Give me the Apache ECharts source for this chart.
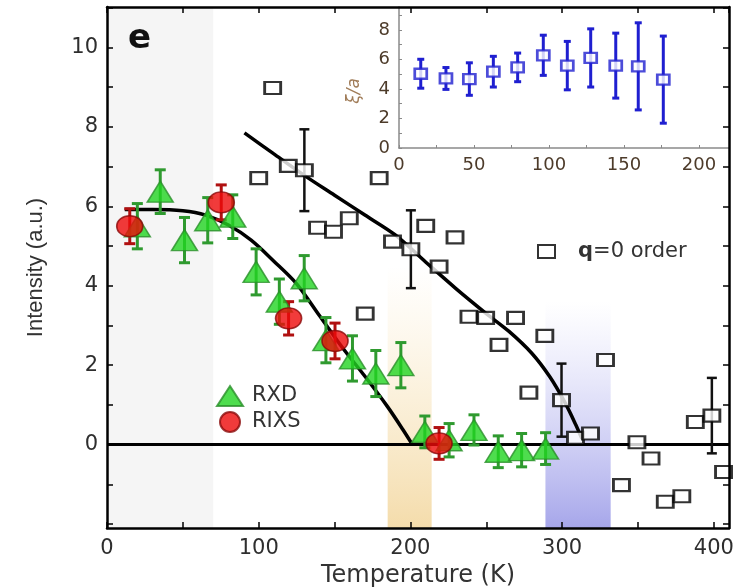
<!DOCTYPE html>
<html><head><meta charset="utf-8">
<script src="https://cdn.jsdelivr.net/npm/echarts@6/dist/echarts.min.js"></script>
<style>html,body{margin:0;padding:0;background:#fff}#c{width:753px;height:587px}</style>
</head><body><div id="c"></div>
<script>
// ---- data ----
const rxdT = [20, 35.1, 51.1, 66.4, 82.9, 98.3, 113.6, 130, 144.3, 161.8, 177.2, 193.7, 209.5, 225.5, 241.9, 257.9, 273.3, 289.1];
const rxdI = [5.5, 6.37, 5.15, 5.65, 5.74, 4.35, 3.60, 4.19, 2.63, 2.17, 1.79, 2.0, 0.32, 0.11, 0.37, -0.18, -0.14, -0.1];
const rxdE = [0.57, 0.55, 0.57, 0.57, 0.55, 0.58, 0.57, 0.57, 0.57, 0.57, 0.58, 0.57, 0.4, 0.42, 0.38, 0.4, 0.42, 0.4];

const rixsT = [15, 75.3, 119.7, 150.3, 218.9];
const rixsI = [5.5, 6.10, 3.18, 2.61, 0.03];
const rixsE = [0.44, 0.44, 0.42, 0.45, 0.4];

const sqT = [109.2, 100, 119.5, 130.1, 138.8, 149.3, 159.7, 179.4, 170.2, 188.2, 200.3, 210.1, 218.9, 229.4, 238.6, 249.6, 269.3, 258.4, 288.6, 328.6, 278.1, 299.6, 308.8, 318.7, 349.3, 358.6, 339.1, 368, 378.9, 387.8, 398.7, 406.4];
const sqI = [8.98, 6.71, 7.02, 6.91, 5.46, 5.36, 5.70, 6.71, 3.30, 5.11, 4.92, 5.51, 4.48, 5.22, 3.22, 3.19, 3.19, 2.51, 2.74, 2.13, 1.31, 1.12, 0.17, 0.28, 0.06, -0.35, -1.02, -1.44, -1.30, 0.57, 0.73, -0.69];
const sqE = [0, 0, 0, 1.03, 0, 0, 0, 0, 0, 0, 0.98, 0, 0, 0, 0, 0, 0, 0, 0, 0, 0, 0.92, 0, 0, 0, 0, 0, 0, 0, 0, 0.95, 0];

const fitRxdT = [11.7, 30, 50, 65, 80, 95, 110, 125, 140, 155, 170, 185, 195, 201.3];
const fitRxdI = [5.92, 5.92, 5.89, 5.78, 5.53, 5.15, 4.62, 4.05, 3.25, 2.45, 1.72, 0.95, 0.38, 0.0];

const fitSqT = [90.6, 110, 130, 150, 170, 190, 210, 230, 250, 265, 280, 292, 302, 309, 313];
const fitSqI = [7.85, 7.32, 6.78, 6.28, 5.78, 5.28, 4.6, 3.93, 3.3, 2.85, 2.3, 1.7, 1.05, 0.5, 0.15];

const insetT = [14.5, 31.3, 46.9, 62.9, 79.1, 96.2, 112.2, 127.8, 144.5, 159.5, 176.2];
const insetXi = [5.03, 4.71, 4.67, 5.17, 5.46, 6.28, 5.58, 6.10, 5.58, 5.53, 4.63];
const insetE = [0.98, 0.74, 1.1, 1.04, 0.97, 1.36, 1.64, 1.97, 2.2, 2.95, 2.95];

const bandFrom = [0, 185, 289];
const bandTo = [70, 214, 332];
const insetBandFrom = [185];
const insetBandTo = [215];

const xTickLabels = [0, 100, 200, 300, 400];
const yTickValues = [-2, -1, 0, 1, 2, 3, 4, 5, 6, 7, 8, 9, 10, 11];
const yTickLabels = [0, 2, 4, 6, 8, 10];
const insetXTickLabels = [0, 50, 100, 150, 200];
const insetYTickValues = [0, 1, 2, 3, 4, 5, 6, 7, 8, 9];
const insetYTickLabels = [0, 2, 4, 6, 8];

// ---- helpers ----
const FONT = '"DejaVu Sans", Verdana, sans-serif';
const FONT2 = '"Liberation Sans", Arial, Helvetica, sans-serif';
const zip = (a, b) => a.map((v, i) => [v, b[i]]);
function errSeries(name, xs, ys, es, color, capW, lw, xi, yi, z) {
  const data = [];
  xs.forEach((x, i) => { if (es[i] > 0) data.push([x, ys[i] - es[i], ys[i] + es[i]]); });
  return {
    type: 'custom', name, xAxisIndex: xi, yAxisIndex: yi, z, silent: true,
    renderItem(params, api) {
      const x = api.value(0), lo = api.value(1), hi = api.value(2);
      const p1 = api.coord([x, lo]), p2 = api.coord([x, hi]);
      const st = { stroke: color, lineWidth: lw };
      return { type: 'group', children: [
        { type: 'line', shape: { x1: p1[0], y1: p1[1], x2: p2[0], y2: p2[1] }, style: st },
        { type: 'line', shape: { x1: p1[0] - capW / 2, y1: p1[1], x2: p1[0] + capW / 2, y2: p1[1] }, style: st },
        { type: 'line', shape: { x1: p2[0] - capW / 2, y1: p2[1], x2: p2[0] + capW / 2, y2: p2[1] }, style: st }
      ] };
    },
    encode: { x: 0, y: [1, 2] }, data
  };
}
const labelIn = list => v => list.some(t => Math.abs(t - v) < 1e-6) ? String(Math.round(v)) : '';
const grad = (top, bottom) => ({ type: 'linear', x: 0, y: 0, x2: 0, y2: 1, colorStops: [{ offset: 0, color: top }, { offset: 1, color: bottom }] });

const bandStyles = [
  { y0: null, color: '#f5f5f5' },
  { y0: 4.5, color: grad('rgba(250,232,195,0)', '#f4dcab') },
  { y0: 3.6, color: grad('rgba(200,200,245,0)', '#a6a6ea') }
];
const bandData = bandFrom.map((f, i) => {
  const s = bandStyles[i];
  const a = { xAxis: f, itemStyle: { color: s.color } };
  const b = { xAxis: bandTo[i] };
  if (s.y0 !== null) { a.yAxis = s.y0; b.yAxis = -2.1; }
  return [a, b];
});

const mainAxisLine = { onZero: false, lineStyle: { color: '#000', width: 2.5 } };
const mainTick = { inside: true, length: 6, lineStyle: { color: '#000', width: 1.5 } };
const labelStyle = { fontFamily: FONT, fontSize: 21, color: '#2e2e2e' };
const insetColor = '#4d3b2a';
const insetLine = { onZero: false, lineStyle: { color: '#8a8a8a', width: 1.5 } };
const insetTick = { inside: true, length: 3, lineStyle: { color: '#8a8a8a', width: 1 } };

const option = {
  animation: false,
  backgroundColor: '#fff',
  grid: [
    { left: 107, right: 24, top: 7, bottom: 59, z: 0, containLabel: false, outerBoundsMode: 'none' },
    { left: 399, right: 24, top: 7, height: 141, z: 6, show: true, backgroundColor: '#fff', borderWidth: 0, containLabel: false, outerBoundsMode: 'none' }
  ],
  xAxis: [
    { type: 'value', gridIndex: 0, position: 'bottom', min: 0, max: 410, interval: 50, z: 10,
      axisLine: mainAxisLine, axisTick: mainTick, splitLine: { show: false },
      axisLabel: Object.assign({ margin: 10, formatter: labelIn(xTickLabels), showMaxLabel: false }, labelStyle),
      name: 'Temperature (K)', nameLocation: 'middle', nameGap: 34,
      nameTextStyle: { fontFamily: FONT, fontSize: 24, color: '#333' } },
    { type: 'value', gridIndex: 0, position: 'top', min: 0, max: 410, interval: 50, z: 10,
      axisLine: mainAxisLine, axisTick: mainTick, splitLine: { show: false }, axisLabel: { show: false } },
    { type: 'value', gridIndex: 1, position: 'bottom', min: 0, max: 220, interval: 25, z: 7,
      axisLine: insetLine, axisTick: insetTick, splitLine: { show: false },
      axisLabel: { margin: 8, formatter: labelIn(insetXTickLabels), fontFamily: FONT, fontSize: 18, color: insetColor, showMaxLabel: false } }
  ],
  yAxis: [
    { type: 'value', gridIndex: 0, position: 'left', min: -2.1, max: 11.02, z: 10,
      axisLine: mainAxisLine, axisTick: Object.assign({ customValues: yTickValues }, mainTick), splitLine: { show: false },
      axisLabel: Object.assign({ margin: 9, customValues: yTickLabels, formatter: v => String(v) }, labelStyle),
      name: 'Intensity (a.u.)', nameLocation: 'middle', nameGap: 60,
      nameTextStyle: { fontFamily: FONT2, fontSize: 22, color: '#333' } },
    { type: 'value', gridIndex: 0, position: 'right', min: -2.1, max: 11.02, z: 10,
      axisLine: mainAxisLine, axisTick: Object.assign({ customValues: yTickValues }, mainTick), splitLine: { show: false }, axisLabel: { show: false } },
    { type: 'value', gridIndex: 1, position: 'left', min: 0, max: 9.55, z: 7,
      axisLine: insetLine, axisTick: Object.assign({ customValues: insetYTickValues }, insetTick), splitLine: { show: false },
      axisLabel: { margin: 9, customValues: insetYTickLabels, formatter: v => String(v), fontFamily: FONT, fontSize: 18, color: insetColor } }
  ],
  legend: [
    { data: ['RXD', 'RIXS'], orient: 'vertical', left: 211, top: 380, itemWidth: 26, itemHeight: 20, itemGap: 4,
      textStyle: { fontFamily: FONT, fontSize: 21, color: '#333', padding: [0, 0, 0, 4] } },
    { data: ['q=0 order'], left: 532, top: 236, itemWidth: 17, itemHeight: 13,
      formatter: () => '{b|q}=0 order',
      textStyle: { fontFamily: FONT, fontSize: 21, color: '#333', padding: [0, 0, 0, 18],
        rich: { b: { fontFamily: FONT, fontSize: 21, fontWeight: 'bold', color: '#333' } } } }
  ],
  graphic: [
    { type: 'text', left: 128, top: 22, z: 20, style: { text: 'e', font: 'bold 34px ' + FONT, fill: '#111' } },
    { type: 'text', x: 355, y: 91, rotation: Math.PI / 2, z: 20,
      style: { text: 'ξ/a', font: 'italic 17px ' + FONT, fill: '#a07c58', align: 'center', verticalAlign: 'middle' } }
  ],
  series: [
    { type: 'line', name: 'bands', xAxisIndex: 0, yAxisIndex: 0, z: 1, silent: true, symbol: 'none',
      lineStyle: { opacity: 0 }, data: [[0, 0], [410, 0]],
      markArea: { silent: true, data: bandData } },
    { type: 'line', name: 'zero', xAxisIndex: 0, yAxisIndex: 0, z: 2, symbol: 'none',
      lineStyle: { color: '#000', width: 3 }, data: [[0, 0], [410, 0]] },
    { type: 'line', name: 'fitA', xAxisIndex: 0, yAxisIndex: 0, z: 2, symbol: 'none', smooth: 0.3,
      lineStyle: { color: '#000', width: 3.5 }, data: zip(fitRxdT, fitRxdI) },
    { type: 'line', name: 'fitB', xAxisIndex: 0, yAxisIndex: 0, z: 2, symbol: 'none', smooth: 0.3,
      lineStyle: { color: '#000', width: 3.5 }, data: zip(fitSqT, fitSqI) },
    errSeries('sqErr', sqT, sqI, sqE, '#111', 10, 2.5, 0, 0, 3),
    { type: 'scatter', name: 'q=0 order', xAxisIndex: 0, yAxisIndex: 0, z: 4, symbol: 'rect', symbolSize: [16, 12],
      itemStyle: { color: '#fff', borderColor: '#000', borderWidth: 2.5 }, data: zip(sqT, sqI) },
    errSeries('rxdErr', rxdT, rxdI, rxdE, '#2f9a2f', 11, 3, 0, 0, 3),
    { type: 'scatter', name: 'RXD', xAxisIndex: 0, yAxisIndex: 0, z: 4, symbol: 'triangle', symbolSize: [26, 21],
      itemStyle: { color: '#22d422', borderColor: '#2a8f2a', borderWidth: 1.5 }, data: zip(rxdT, rxdI) },
    errSeries('rixsErr', rixsT, rixsI, rixsE, '#b01010', 11, 3, 0, 0, 4),
    { type: 'scatter', name: 'RIXS', xAxisIndex: 0, yAxisIndex: 0, z: 5, symbol: 'circle', symbolSize: [26, 21],
      itemStyle: { color: '#ee0a0a', borderColor: '#8a0a0a', borderWidth: 1.5 }, data: zip(rixsT, rixsI) },
    // inset
    { type: 'line', name: 'insetBand', xAxisIndex: 2, yAxisIndex: 2, z: 7, silent: true, symbol: 'none',
      lineStyle: { opacity: 0 }, data: [[0, 0], [220, 0]],
      markArea: { silent: true, data: insetBandFrom.map((f, i) => [{ xAxis: f, itemStyle: { color: '#fdfad6' } }, { xAxis: insetBandTo[i] }]) } },
    errSeries('insetErr', insetT, insetXi, insetE, '#1f1fd0', 7, 3, 2, 2, 8),
    { type: 'scatter', name: 'inset', xAxisIndex: 2, yAxisIndex: 2, z: 9, symbol: 'rect', symbolSize: [12, 10],
      itemStyle: { color: '#fff', borderColor: '#1f1fd0', borderWidth: 2.5 }, data: zip(insetT, insetXi) }
  ]
};
echarts.init(document.getElementById('c'), null, { renderer: 'canvas' }).setOption(option);
</script>
</body></html>
